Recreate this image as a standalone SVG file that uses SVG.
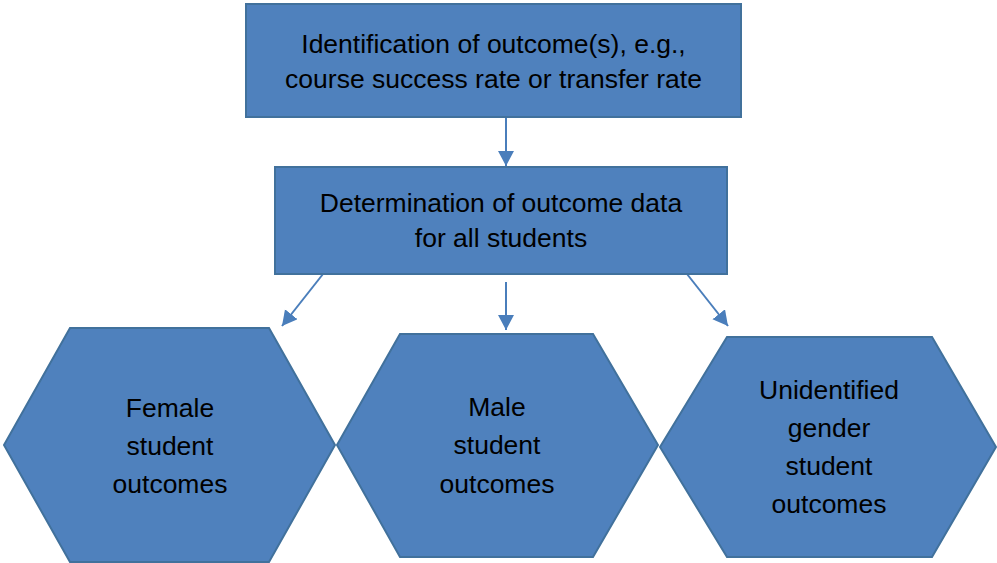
<svg xmlns="http://www.w3.org/2000/svg" width="997" height="563" viewBox="0 0 997 563">
<style>
.shape{fill:#4F81BD;stroke:#41719C;stroke-width:2}
.lbl{font-family:"Liberation Sans",Arial,sans-serif;font-size:26.5px;fill:#000;text-anchor:middle}
.conn{stroke:#4A7EBB;stroke-width:2;fill:none;marker-end:url(#arr)}
</style>
<defs>
<marker id="arr" markerUnits="userSpaceOnUse" markerWidth="16" markerHeight="17" refX="15" refY="8" orient="auto" viewBox="0 0 16 17">
<path d="M0,0 L15,8 L0,16 Z" fill="#4A7EBB"/>
</marker>
</defs>
<rect width="997" height="563" fill="#fff"/>
<g id="connectors">
<line class="conn" x1="506" y1="117" x2="506" y2="166"/>
<line class="conn" x1="506" y1="282" x2="506" y2="330"/>
<line class="conn" x1="323" y1="274" x2="282" y2="326"/>
<line class="conn" x1="687" y1="274" x2="728" y2="326"/>
</g>
<g id="node-identification">
<rect class="shape" x="246" y="4" width="495" height="113"/>
<text class="lbl" x="493.5" y="53">Identification of outcome(s), e.g.,</text>
<text class="lbl" x="493.5" y="88">course success rate or transfer rate</text>
</g>
<g id="node-determination">
<rect class="shape" x="275" y="167" width="452" height="107"/>
<text class="lbl" x="501" y="212">Determination of outcome data</text>
<text class="lbl" x="501" y="247">for all students</text>
</g>
<g id="node-female">
<polygon class="shape" points="70,328 269,328 335,445 269,562 70,562 4,445"/>
<text class="lbl" x="170" y="417">Female</text>
<text class="lbl" x="170" y="455">student</text>
<text class="lbl" x="170" y="493">outcomes</text>
</g>
<g id="node-male">
<polygon class="shape" points="400,334 593,334 658,445 593,557 400,557 337,445"/>
<text class="lbl" x="497" y="416">Male</text>
<text class="lbl" x="497" y="454">student</text>
<text class="lbl" x="497" y="493">outcomes</text>
</g>
<g id="node-unidentified">
<polygon class="shape" points="727,337 932,337 996,447 932,557 727,557 660,447"/>
<text class="lbl" x="829" y="399">Unidentified</text>
<text class="lbl" x="829" y="437">gender</text>
<text class="lbl" x="829" y="475">student</text>
<text class="lbl" x="829" y="513">outcomes</text>
</g>
</svg>
